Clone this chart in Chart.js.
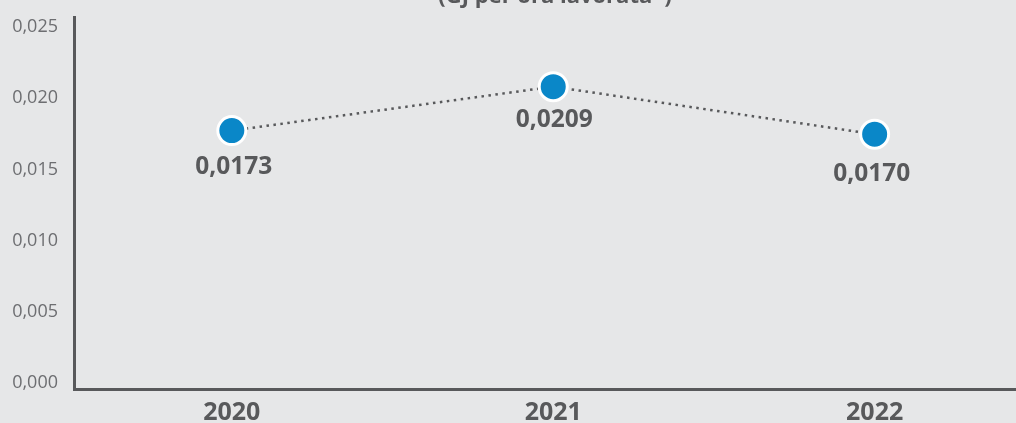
<!DOCTYPE html>
<html>
<head>
<meta charset="utf-8">
<script src="https://cdn.jsdelivr.net/npm/chart.js@4/dist/chart.umd.min.js"></script>
<style>
  html, body { margin: 0; padding: 0; background: #e6e7e8; overflow: hidden; }
  #wrap { position: relative; width: 1016px; height: 423px; overflow: hidden; background: #e6e7e8; }
  #inner { position: absolute; left: 0; top: -20px; width: 1053px; height: 443px; }
  #c { display: block; width: 1053px; height: 443px; }
</style>
</head>
<body>
<div id="wrap"><div id="inner"><canvas id="c" width="1053" height="443"></canvas></div></div>
<script>
const titleText = '(GJ per ora lavorata*)';
const categories = ['2020', '2021', '2022'];
const values = [0.0173, 0.0209, 0.0170];
const valueLabels = ['0,0173', '0,0209', '0,0170'];
const yTicks = [0, 0.005, 0.010, 0.015, 0.020, 0.025];

const labelOffsetY = [36, 33, 40];
const labelOffsetX = [2, 1, -3];

const dark = '#58595b';

const pointLabels = {
  id: 'pointLabels',
  afterDatasetsDraw(chart) {
    const ctx = chart.ctx;
    const meta = chart.getDatasetMeta(0);
    ctx.save();
    ctx.font = 'bold 24.5px "Open Sans"';
    ctx.fillStyle = dark;
    ctx.textAlign = 'center';
    ctx.textBaseline = 'middle';
    meta.data.forEach((pt, i) => {
      ctx.fillText(valueLabels[i], pt.x + labelOffsetX[i], pt.y + labelOffsetY[i]);
    });
    ctx.restore();
  }
};

new Chart(document.getElementById('c'), {
  type: 'line',
  data: {
    datasets: [{
      data: values.map((v, i) => ({ x: i, y: v })),
      yAxisID: 'y2',
      borderColor: dark,
      borderWidth: 2.5,
      borderDash: [2.5, 4.5],
      borderCapStyle: 'butt',
      tension: 0,
      fill: false,
      pointRadius: 14,
      pointHoverRadius: 14,
      pointBackgroundColor: '#0a87c8',
      pointBorderColor: '#ffffff',
      pointBorderWidth: 3
    }]
  },
  options: {
    responsive: false,
    maintainAspectRatio: false,
    animation: false,
    devicePixelRatio: 1,
    layout: { padding: { left: 0, right: 0, top: 0, bottom: 0 } },
    plugins: {
      legend: { display: false },
      tooltip: { enabled: false },
      title: {
        display: true,
        text: titleText,
        fullSize: false,
        color: dark,
        font: { family: '"Open Sans"', size: 22, weight: 'bold', lineHeight: 1.2 },
        padding: { top: 3.5, bottom: 7.1 }
      }
    },
    scales: {
      x: {
        type: 'linear',
        min: -0.491,
        max: 2.502,
        afterBuildTicks: s => { s.ticks = categories.map((c, i) => ({ value: i })); },
        afterFit: s => { s.height = 34; },
        grid: { display: false, drawTicks: false },
        border: { display: true, color: dark, width: 3 },
        ticks: {
          callback: v => categories[v],
          color: dark,
          padding: 11,
          maxRotation: 0,
          autoSkip: false,
          font: { family: '"Open Sans"', size: 25, weight: 'bold', lineHeight: 1 }
        }
      },
      y: {
        type: 'linear',
        position: 'left',
        min: -0.00042,
        max: 0.0257,
        afterBuildTicks: s => { s.ticks = yTicks.map(v => ({ value: v })); },
        afterFit: s => { s.width = 74; },
        grid: { display: false, drawTicks: false },
        border: { display: true, color: dark, width: 3 },
        ticks: {
          callback: v => v.toFixed(3).replace('.', ','),
          color: '#6d6e71',
          padding: 16,
          font: { family: '"Open Sans"', size: 18 }
        }
      },
      y2: {
        type: 'linear',
        display: false,
        min: -0.00388,
        max: 0.02661
      }
    }
  },
  plugins: [pointLabels]
});
</script>
</body>
</html>
